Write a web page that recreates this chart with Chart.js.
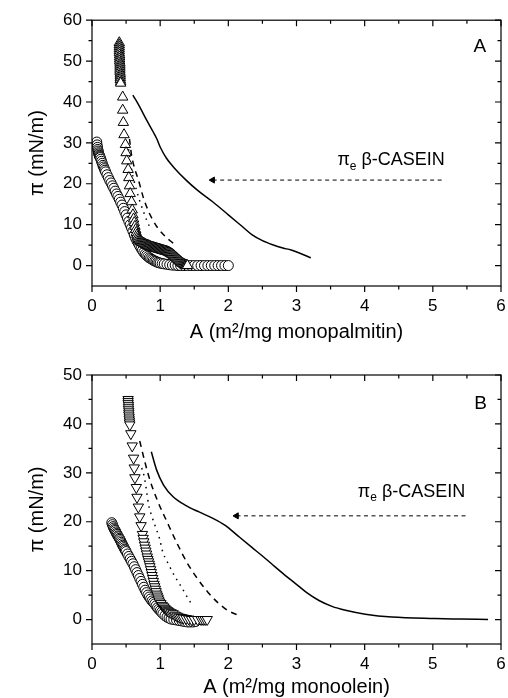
<!DOCTYPE html>
<html><head><meta charset="utf-8">
<script src="https://cdn.jsdelivr.net/npm/chart.js@4.4.1/dist/chart.umd.min.js"></script>
<style>
html,body{margin:0;padding:0;background:#fff;overflow:hidden;width:508px;height:698px;}
#ca{position:absolute;left:0;top:0;}
#cb{position:absolute;left:0;top:346px;}
</style></head><body>
<canvas id="ca" width="508" height="346"></canvas>
<canvas id="cb" width="508" height="358"></canvas>
<script>
// ---------- axis ticks ----------
const xTicks = [0, 1, 2, 3, 4, 5, 6];
const xMinorTicks = [0.5, 1.5, 2.5, 3.5, 4.5, 5.5];
const yTicksA = [0, 10, 20, 30, 40, 50, 60];
const yMinorTicksA = [5, 15, 25, 35, 45, 55];
const yTicksB = [0, 10, 20, 30, 40, 50];
const yMinorTicksB = [5, 15, 25, 35, 45];

// ---------- Panel A (monopalmitin) ----------
const circlesA = [[0.07,30.2],[0.075,29.5],[0.08,28.9],[0.085,28.4],[0.09,28.0],[0.095,27.6],[0.10,27.3],[0.105,27.0],[0.11,26.8],[0.115,26.6],[0.12,26.4],[0.13,26.0],[0.14,25.5],[0.15,25.0],[0.16,24.5],[0.17,24.1],[0.18,23.7],[0.19,23.3],[0.20,22.9],[0.22,22.2],[0.24,21.5],[0.26,20.8],[0.28,20.2],[0.30,19.5],[0.32,18.9],[0.34,18.2],[0.36,17.5],[0.38,16.9],[0.40,16.2],[0.42,15.5],[0.44,14.8],[0.46,14.0],[0.48,13.2],[0.50,12.4],[0.52,11.6],[0.54,10.8],[0.56,10.0],[0.58,9.2],[0.60,8.4],[0.62,7.5],[0.64,6.7],[0.66,6.0],[0.68,5.4],[0.70,4.8],[0.72,4.2],[0.74,3.7],[0.76,3.2],[0.78,2.8],[0.80,2.5],[0.82,2.2],[0.84,1.9],[0.86,1.7],[0.88,1.5],[0.90,1.3],[0.92,1.1],[0.94,1.0],[0.96,0.8],[0.98,0.7],[1.00,0.6],[1.03,0.5],[1.06,0.4],[1.10,0.3],[1.14,0.2],[1.18,0.1],[1.22,0.1],[1.26,0],[1.30,0],[1.35,0],[1.40,0],[1.45,0],[1.50,0],[1.55,0],[1.60,0],[1.65,0],[1.70,0],[1.75,0],[1.80,0],[1.85,0],[1.90,0],[1.95,0],[2.00,0]];
const trianglesA = [[0.40,54.5],[0.40,54.0],[0.40,53.5],[0.40,53.0],[0.40,52.5],[0.40,52.0],[0.405,51.5],[0.405,51.0],[0.405,50.5],[0.405,50.0],[0.41,49.5],[0.41,49.0],[0.41,48.5],[0.41,48.0],[0.41,47.5],[0.415,47.0],[0.415,46.5],[0.415,46.0],[0.415,45.5],[0.42,45.0],[0.42,44.6],[0.45,41.2],[0.45,38.0],[0.46,35.0],[0.47,32.0],[0.49,29.6],[0.50,27.6],[0.51,25.6],[0.53,23.5],[0.54,21.5],[0.55,19.5],[0.56,17.6],[0.58,15.6],[0.59,13.6],[0.60,12.4],[0.61,11.4],[0.62,10.5],[0.63,9.6],[0.64,8.8],[0.65,8.1],[0.66,7.5],[0.67,7.0],[0.68,6.6],[0.69,6.3],[0.70,6.1],[0.71,5.95],[0.72,5.8],[0.73,5.7],[0.74,5.6],[0.75,5.5],[0.76,5.4],[0.77,5.3],[0.78,5.2],[0.79,5.1],[0.80,5.0],[0.81,4.95],[0.82,4.9],[0.83,4.85],[0.84,4.8],[0.85,4.7],[0.86,4.6],[0.87,4.55],[0.88,4.5],[0.89,4.45],[0.90,4.4],[0.91,4.35],[0.92,4.3],[0.93,4.25],[0.94,4.2],[0.95,4.15],[0.96,4.1],[0.97,4.05],[0.98,4.0],[0.99,3.95],[1.00,3.9],[1.01,3.85],[1.02,3.8],[1.03,3.75],[1.04,3.7],[1.05,3.65],[1.06,3.6],[1.07,3.55],[1.08,3.5],[1.09,3.45],[1.10,3.4],[1.11,3.35],[1.12,3.3],[1.13,3.2],[1.14,3.1],[1.15,3.0],[1.16,2.9],[1.17,2.8],[1.18,2.7],[1.19,2.55],[1.20,2.4],[1.21,2.25],[1.22,2.1],[1.23,1.95],[1.24,1.8],[1.25,1.65],[1.26,1.5],[1.27,1.35],[1.28,1.2],[1.29,1.05],[1.30,0.9],[1.31,0.75],[1.32,0.6],[1.33,0.5],[1.34,0.4],[1.35,0.3],[1.36,0.2],[1.37,0.15],[1.38,0.1],[1.39,0.05],[1.40,0]];
const solidA = [[0.60,41.7],[0.70,38.8],[0.80,35.6],[0.90,32.6],[0.95,31.0],[1.00,29.0],[1.09,26.3],[1.20,24.0],[1.38,20.9],[1.55,18.4],[1.77,15.6],[2.00,12.4],[2.20,9.6],[2.35,7.5],[2.50,6.1],[2.65,5.1],[2.80,4.3],[2.92,3.8],[3.05,3.0],[3.21,1.9]];
const dashedA = [[0.55,31.0],[0.58,27.0],[0.63,23.5],[0.68,21.0],[0.75,16.8],[0.82,13.6],[0.89,11.2],[0.96,9.3],[1.03,7.9],[1.10,6.7],[1.18,5.6],[1.22,5.0]];
const dottedA = [[0.52,30.0],[0.55,27.0],[0.58,23.5],[0.62,20.5],[0.66,18.0],[0.70,15.8],[0.75,13.4],[0.80,11.2],[0.85,9.3]];
const arrowA = [[1.77,20.9],[5.13,20.9]];

// ---------- Panel B (monoolein) ----------
const circlesB = [[0.29,19.8],[0.30,19.4],[0.31,19.0],[0.32,18.7],[0.33,18.4],[0.34,18.2],[0.35,17.9],[0.36,17.6],[0.37,17.4],[0.38,17.1],[0.39,16.9],[0.40,16.6],[0.41,16.4],[0.42,16.1],[0.43,15.8],[0.44,15.5],[0.45,15.2],[0.46,15.0],[0.47,14.7],[0.48,14.4],[0.49,14.2],[0.50,13.9],[0.52,13.4],[0.54,12.9],[0.56,12.4],[0.58,11.9],[0.60,11.4],[0.62,10.8],[0.64,10.2],[0.66,9.6],[0.68,9.0],[0.70,8.4],[0.72,7.8],[0.74,7.2],[0.76,6.6],[0.78,6.0],[0.80,5.5],[0.82,5.0],[0.84,4.6],[0.86,4.2],[0.88,3.8],[0.90,3.5],[0.92,3.2],[0.94,2.8],[0.96,2.4],[0.98,2.1],[1.00,1.8],[1.02,1.5],[1.04,1.2],[1.07,0.8],[1.10,0.5],[1.13,0.3],[1.16,0.1],[1.20,0],[1.24,-0.1],[1.28,-0.2],[1.32,-0.3],[1.36,-0.4],[1.40,-0.5],[1.44,-0.5],[1.48,-0.5],[1.52,-0.4]];
const trianglesB = [[0.53,45.0],[0.53,44.6],[0.53,44.2],[0.535,43.8],[0.535,43.4],[0.535,43.0],[0.54,42.6],[0.54,42.2],[0.54,41.8],[0.545,41.4],[0.545,41.0],[0.55,40.6],[0.55,40.2],[0.555,39.8],[0.57,38.0],[0.59,35.5],[0.61,33.0],[0.62,31.0],[0.63,29.0],[0.65,27.0],[0.66,25.0],[0.68,23.0],[0.70,21.0],[0.72,19.2],[0.74,17.4],[0.75,16.6],[0.76,15.9],[0.77,15.2],[0.78,14.6],[0.79,14.0],[0.80,13.4],[0.81,12.8],[0.82,12.3],[0.83,11.8],[0.84,11.3],[0.85,10.8],[0.86,10.2],[0.87,9.6],[0.88,9.0],[0.89,8.4],[0.90,7.8],[0.91,7.2],[0.92,6.7],[0.93,6.2],[0.94,5.7],[0.95,5.2],[0.96,4.8],[0.97,4.4],[0.98,4.0],[0.99,3.6],[1.01,3.3],[1.03,2.9],[1.05,2.6],[1.07,2.3],[1.09,2.0],[1.11,1.8],[1.13,1.6],[1.16,1.4],[1.19,1.2],[1.22,0.9],[1.25,0.7],[1.28,0.5],[1.31,0.4],[1.34,0.3],[1.38,0.2],[1.42,0.1],[1.46,0],[1.50,0],[1.55,0],[1.60,0],[1.63,0],[1.66,0],[1.69,0]];
const solidB = [[0.87,34.3],[0.95,30.5],[1.05,27.5],[1.19,25.1],[1.38,23.3],[1.57,22.0],[1.76,20.8],[1.96,19.2],[2.15,17.0],[2.35,14.7],[2.50,13.0],[2.65,11.2],[2.82,9.2],[2.99,7.3],[3.15,5.5],[3.33,3.9],[3.52,2.7],[3.72,1.9],[4.01,1.1],[4.40,0.5],[5.03,0.2],[5.40,0.1],[5.81,0]];
const dashedB = [[0.70,36.5],[0.78,32.0],[0.85,28.5],[0.97,24.0],[1.10,20.0],[1.25,15.5],[1.40,11.5],[1.55,8.3],[1.70,5.6],[1.85,3.4],[2.00,1.8],[2.18,0.7]];
const dottedB = [[0.73,31.0],[0.77,29.0],[0.80,26.3],[0.83,23.5],[0.88,21.0],[0.93,19.0],[0.99,16.6],[1.04,13.7],[1.09,12.2],[1.14,10.8],[1.22,8.7],[1.31,6.7],[1.38,5.0],[1.45,3.4]];
const arrowB = [[2.12,21.2],[5.50,21.2]];

const FONT = "'Liberation Sans', Arial, sans-serif";
const xy = a => a.map(([x, y]) => ({x, y}));

const framePlugin = {
  id: 'frame',
  afterDatasetsDraw(chart) {
    const o = chart.options.plugins.frame;
    const {ctx, chartArea: {left, right, top, bottom}, scales: {x, y}} = chart;
    ctx.save();
    ctx.strokeStyle = '#000';
    ctx.lineWidth = 1.2;
    ctx.strokeRect(left, top, right - left, bottom - top);
    ctx.beginPath();
    const MAJ = 6, MIN = 3.5;
    const xt = (arr, len) => arr.forEach(v => {
      const p = x.getPixelForValue(v);
      ctx.moveTo(p, bottom); ctx.lineTo(p, bottom + len);
      ctx.moveTo(p, top); ctx.lineTo(p, top + len);
    });
    const yt = (arr, len) => arr.forEach(v => {
      const p = y.getPixelForValue(v);
      ctx.moveTo(left, p); ctx.lineTo(left - len, p);
      ctx.moveTo(right, p); ctx.lineTo(right - len, p);
    });
    xt(xTicks, MAJ); xt(xMinorTicks, MIN);
    yt(o.yMajor, MAJ); yt(o.yMinor, MIN);
    ctx.stroke();
    // panel letter
    ctx.fillStyle = '#000';
    ctx.font = '19px ' + FONT;
    ctx.textAlign = 'center';
    ctx.textBaseline = 'middle';
    ctx.fillText(o.letter, x.getPixelForValue(o.letterAt[0]), y.getPixelForValue(o.letterAt[1]));
    // pi_e beta-CASEIN
    let px = x.getPixelForValue(o.noteAt[0]);
    const py = y.getPixelForValue(o.noteAt[1]);
    ctx.textAlign = 'left';
    ctx.textBaseline = 'middle';
    ctx.font = '18px ' + FONT;
    ctx.fillText('π', px, py);
    px += ctx.measureText('π').width;
    ctx.font = '12px ' + FONT;
    ctx.fillText('e', px, py + 6);
    px += ctx.measureText('e').width;
    ctx.font = '18px ' + FONT;
    ctx.fillText(' β-CASEIN', px, py);
    ctx.restore();
  }
};

function makeChart(id, cfg) {
  const markerCommon = {showLine: false, pointBorderColor: '#000', pointBackgroundColor: '#fff', pointBorderWidth: 1, pointHoverRadius: 0};
  const lineCommon = {showLine: true, pointRadius: 0, borderColor: '#000', borderWidth: 1.5, fill: false, cubicInterpolationMode: 'monotone'};
  return new Chart(document.getElementById(id), {
    type: 'scatter',
    data: {
      datasets: [
        Object.assign({data: xy(cfg.tri), pointStyle: 'triangle', pointRadius: 6, pointRotation: cfg.triRot}, markerCommon),
        Object.assign({data: xy(cfg.circ), pointStyle: 'circle', pointRadius: 5}, markerCommon),
        Object.assign({data: xy(cfg.solid)}, lineCommon),
        Object.assign({data: xy(cfg.dashed), borderDash: [6, 5]}, lineCommon),
        Object.assign({data: xy(cfg.dotted), borderDash: [1.5, 5], borderWidth: 1.6}, lineCommon),
        {data: xy(cfg.arrow), showLine: true, borderColor: '#000', borderWidth: 1, borderDash: [4, 3.5],
         pointStyle: 'triangle', pointRotation: 270, pointRadius: [3.5, 0], pointBackgroundColor: '#000', pointBorderColor: '#000', pointBorderWidth: 1}
      ]
    },
    options: {
      responsive: false, animation: false, devicePixelRatio: 1,
      layout: {padding: {left: 0, right: 4, top: cfg.padTop, bottom: 0}},
      plugins: {legend: {display: false}, tooltip: {enabled: false},
        frame: {yMajor: cfg.yMajor, yMinor: cfg.yMinor, letter: cfg.letter, letterAt: cfg.letterAt, noteAt: cfg.noteAt}},
      scales: {
        x: {type: 'linear', min: 0, max: 6,
          afterBuildTicks: s => { s.ticks = xTicks.map(v => ({value: v})); },
          afterFit: s => { s.height = 60; s.paddingLeft = 0; s.paddingRight = 0; },
          grid: {display: false, drawTicks: false},
          border: {display: false},
          ticks: {color: '#000', padding: 10, font: {family: FONT, size: 17}, maxRotation: 0, autoSkip: false},
          title: {display: true, text: cfg.xTitle, color: '#000', font: {family: FONT, size: 20}, padding: {top: 0, bottom: cfg.titlePadB}}
        },
        y: {type: 'linear', min: -5, max: cfg.yMax,
          afterBuildTicks: s => { s.ticks = cfg.yMajor.map(v => ({value: v})); },
          afterFit: s => { s.width = 92; },
          grid: {display: false, drawTicks: false},
          border: {display: false},
          ticks: {color: '#000', padding: 10, font: {family: FONT, size: 17}, autoSkip: false},
          title: {display: true, text: 'π (mN/m)', color: '#000', font: {family: FONT, size: 20}, padding: {top: 25, bottom: 0}}
        }
      }
    },
    plugins: [framePlugin]
  });
}

makeChart('ca', {tri: trianglesA, triRot: 0, circ: circlesA, solid: solidA, dashed: dashedA, dotted: dottedA, arrow: arrowA,
  yMax: 60, yMajor: yTicksA, yMinor: yMinorTicksA, padTop: 19, titlePadB: 2,
  xTitle: 'A (m²/mg monopalmitin)', letter: 'A', letterAt: [5.69, 53.6], noteAt: [3.6, 25.7]});
makeChart('cb', {tri: trianglesB, triRot: 180, circ: circlesB, solid: solidB, dashed: dashedB, dotted: dottedB, arrow: arrowB,
  yMax: 50, yMajor: yTicksB, yMinor: yMinorTicksB, padTop: 29, titlePadB: 5,
  xTitle: 'A (m²/mg monoolein)', letter: 'B', letterAt: [5.7, 44.2], noteAt: [3.9, 26.1]});
</script>
</body></html>
